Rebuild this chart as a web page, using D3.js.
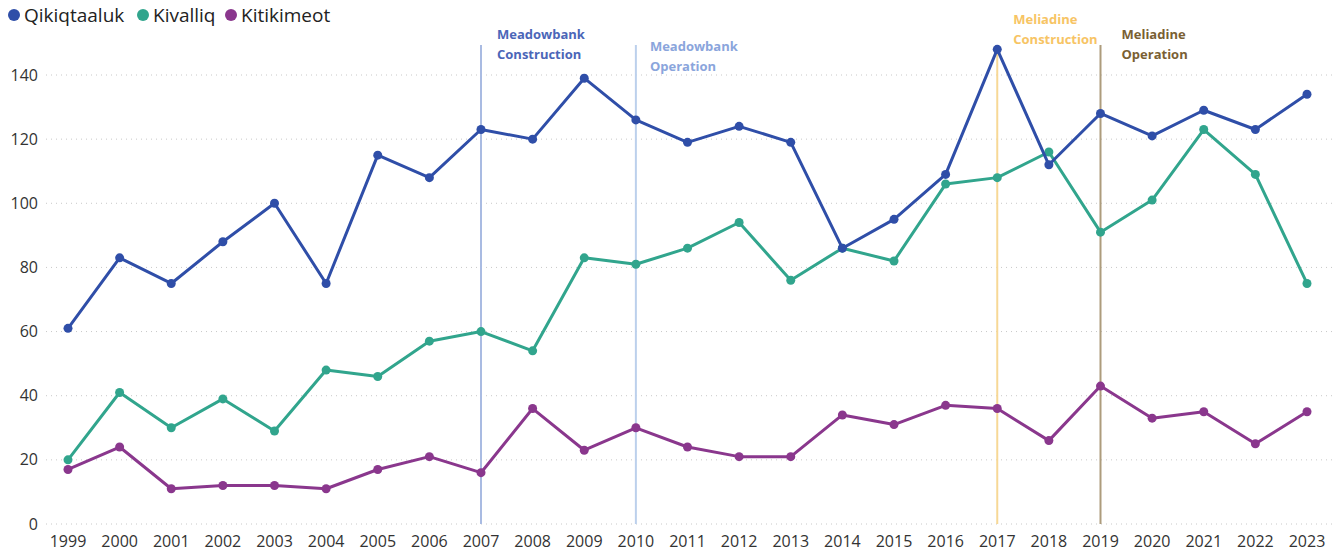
<!DOCTYPE html>
<html><head><meta charset="utf-8">
<script src="https://cdn.jsdelivr.net/npm/d3@7"></script>
<style>body{margin:0;background:#fff;} svg{display:block;font-family:"Open Sans","Noto Sans",sans-serif;}</style>
</head><body>
<svg id="c" width="1338" height="552"></svg>
<script>
const years = [1999,2000,2001,2002,2003,2004,2005,2006,2007,2008,2009,2010,2011,2012,2013,2014,2015,2016,2017,2018,2019,2020,2021,2022,2023];
const qikiqtaaluk = [61,83,75,88,100,75,115,108,123,120,139,126,119,124,119,86,95,109,148,112,128,121,129,123,134];
const kivalliq = [20,41,30,39,29,48,46,57,60,54,83,81,86,94,76,86,82,106,108,116,91,101,123,109,75];
const kitikimeot = [17,24,11,12,12,11,17,21,16,36,23,30,24,21,21,34,31,37,36,26,43,33,35,25,35];
const seriesNames = ["Qikiqtaaluk","Kivalliq","Kitikimeot"];
const seriesColors = ["#2f4ea8","#31a58d","#8a378d"];
const yTicks = [0,20,40,60,80,100,120,140];
const events = [
  {year:2007, lines:["Meadowbank","Construction"], color:"#a9bbe2", text:"#4b66b8", dx:16, ty:39},
  {year:2010, lines:["Meadowbank","Operation"], color:"#bcd0ec", text:"#8aa5dc", dx:14, ty:51},
  {year:2017, lines:["Meliadine","Construction"], color:"#f7d896", text:"#f7c464", dx:16, ty:24},
  {year:2019, lines:["Meliadine","Operation"], color:"#ad9c7c", text:"#7a5f33", dx:21, ty:39}
];

const svg = d3.select("#c");
const x = d3.scalePoint().domain(years).range([68,1307]);
const y = d3.scaleLinear().domain([0,140]).range([524,75]);

svg.append("g").selectAll("line").data(yTicks).join("line")
  .attr("x1",46).attr("x2",1332).attr("y1",d=>y(d)).attr("y2",d=>y(d))
  .attr("stroke","#c8c8c8").attr("stroke-width",1).attr("stroke-dasharray","1,4");

svg.append("g").selectAll("text").data(yTicks).join("text")
  .attr("x",38).attr("y",d=>y(d)).attr("dy","0.35em").attr("text-anchor","end")
  .attr("font-size",16).attr("fill","#333").text(d=>d);

svg.append("g").selectAll("text").data(years).join("text")
  .attr("x",d=>x(d)).attr("y",547).attr("text-anchor","middle")
  .attr("font-size",16).attr("fill","#333").text(d=>d);

const ev = svg.append("g");
events.forEach(e=>{
  ev.append("line").attr("x1",x(e.year)).attr("x2",x(e.year)).attr("y1",45).attr("y2",524)
    .attr("stroke",e.color).attr("stroke-width",2);
  const t = ev.append("text").attr("x",x(e.year)+e.dx).attr("y",e.ty)
    .attr("font-size",13).attr("font-weight","bold").attr("fill",e.text);
  e.lines.forEach((l,i)=>t.append("tspan").attr("x",x(e.year)+e.dx).attr("dy",i?19.5:0).text(l));
});

const allData = [qikiqtaaluk,kivalliq,kitikimeot];
const line = d3.line().x((d,i)=>x(years[i])).y(d=>y(d));
[2,1,0].forEach(s=>{
  const g = svg.append("g");
  g.append("path").datum(allData[s]).attr("d",line).attr("fill","none")
    .attr("stroke",seriesColors[s]).attr("stroke-width",3).attr("stroke-linejoin","round");
  g.selectAll("circle").data(allData[s]).join("circle")
    .attr("cx",(d,i)=>x(years[i])).attr("cy",d=>y(d)).attr("r",4.5).attr("fill",seriesColors[s]);
});

const leg = svg.append("g");
const legPos = [14,143,231];
seriesNames.forEach((n,i)=>{
  leg.append("circle").attr("cx",legPos[i]).attr("cy",15).attr("r",6).attr("fill",seriesColors[i]);
  leg.append("text").attr("x",legPos[i]+10).attr("y",15).attr("dy","0.35em")
    .attr("font-size",19).attr("fill","#222").text(n);
});
</script>
</body></html>
